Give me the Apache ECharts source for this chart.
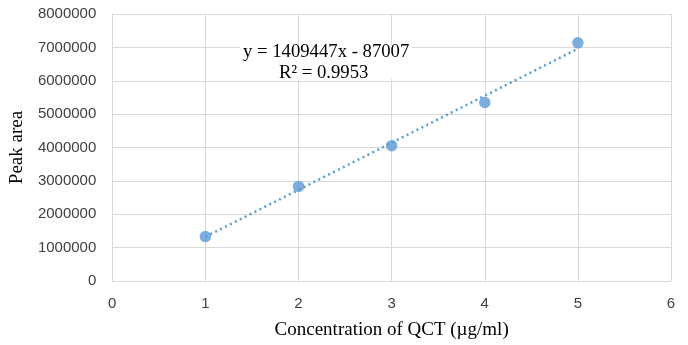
<!DOCTYPE html>
<html><head><meta charset="utf-8">
<script src="https://cdn.jsdelivr.net/npm/echarts@6/dist/echarts.min.js"></script>
<style>html,body{margin:0;padding:0;background:#fff}#c{width:688px;height:345px}</style>
</head><body><div id="c"></div>
<script>
const concentrations = [1, 2, 3, 4, 5];
const peakAreas = [1330000, 2835000, 4055000, 5350000, 7135000];
const trendX = [1, 5];
const trendY = [1322440, 6960228];
const xTicks = [0, 1, 2, 3, 4, 5, 6];
const yTicks = [0, 1000000, 2000000, 3000000, 4000000, 5000000, 6000000, 7000000, 8000000];
const equationText = 'y = 1409447x - 87007';
const r2Text = 'R² = 0.9953';
const xTitle = 'Concentration of QCT (µg/ml)';
const yTitle = 'Peak area';

const chart = echarts.init(document.getElementById('c'), null, {renderer: 'canvas'});
const grid = '#d9d9d9';
chart.setOption({
  animation: false,
  backgroundColor: '#fff',
  grid: {left: 112, right: 17, top: 14, bottom: 63, containLabel: false},
  xAxis: {
    type: 'value', min: xTicks[0], max: xTicks[xTicks.length - 1], interval: 1,
    name: xTitle, nameLocation: 'middle', nameGap: 40,
    nameTextStyle: {fontFamily: 'Liberation Serif', fontSize: 19, color: '#000'},
    axisLine: {show: true, lineStyle: {color: grid, width: 1}},
    axisTick: {show: false},
    axisLabel: {fontFamily: 'Liberation Sans', fontSize: 15, color: '#404040', margin: 15, formatter: v => String(v)},
    splitLine: {show: true, lineStyle: {color: grid, width: 1}}
  },
  yAxis: {
    type: 'value', min: yTicks[0], max: yTicks[yTicks.length - 1], interval: 1000000,
    name: yTitle, nameLocation: 'middle', nameGap: 80, nameRotate: 90,
    nameTextStyle: {fontFamily: 'Liberation Serif', fontSize: 19, color: '#000'},
    axisLine: {show: true, lineStyle: {color: grid, width: 1}},
    axisTick: {show: false},
    axisLabel: {fontFamily: 'Liberation Sans', fontSize: 15, color: '#404040', margin: 16, formatter: v => String(v)},
    splitLine: {show: true, lineStyle: {color: grid, width: 1}}
  },
  series: [
    {
      type: 'line',
      data: trendX.map((x, i) => [x, trendY[i]]),
      showSymbol: false, symbol: 'none',
      lineStyle: {color: '#5b9bd5', width: 2.5, type: [2, 3.5]},
      z: 2
    },
    {
      type: 'scatter',
      data: concentrations.map((x, i) => [x, peakAreas[i]]),
      symbolSize: 11.5,
      itemStyle: {color: '#5b9bd5'},
      z: 3
    }
  ],
  graphic: [
    {type: 'rect', left: 240, top: 45, shape: {width: 172, height: 34}, style: {fill: '#fff'}, z: 10},
    {type: 'text', left: 243, top: 43, z: 11, style: {text: equationText, fontFamily: 'Liberation Serif', fontSize: 18.7, fill: '#000'}},
    {type: 'text', left: 279, top: 64, z: 11, style: {text: r2Text, fontFamily: 'Liberation Serif', fontSize: 18.7, fill: '#000'}}
  ]
});
</script></body></html>
